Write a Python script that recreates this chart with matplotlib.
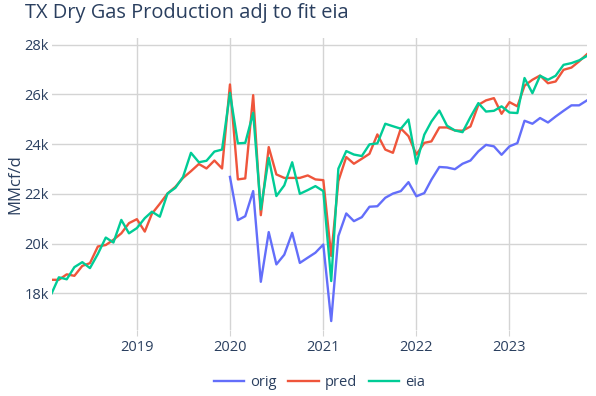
import matplotlib.pyplot as plt
import matplotlib.dates as mdates
import pandas as pd
from matplotlib.ticker import FuncFormatter

plt.rcParams["font.family"] = ["Open Sans", "DejaVu Sans"]

months = pd.date_range("2018-02-01", periods=70, freq="MS")
orig_start = "2020-01-01"

pred = [
    18540, 18540, 18760, 18700, 19100, 19210, 19880, 19940, 20150, 20410, 20820,
    20980, 20480, 21200, 21600, 22010, 22280, 22640, 22910, 23200, 23020, 23340, 23020,
    26400, 22580, 22620, 25970, 21140, 23880, 22780, 22640, 22640, 22640, 22740, 22580,
    22550, 19500, 22510, 23480, 23210, 23410, 23610, 24390, 23780, 23650, 24630, 24320,
    23580, 24050, 24110, 24670, 24670, 24550, 24540, 24710, 25580, 25760, 25850, 25220,
    25690, 25520, 26350, 26590, 26760, 26450, 26520, 26990, 27080, 27330, 27620,
]
eia = [
    18000, 18640, 18560, 19050, 19250, 19010, 19580, 20240, 20040, 20950, 20410,
    20620, 21020, 21280, 21080, 22010, 22240, 22680, 23650, 23270, 23330, 23700, 23780,
    26060, 24030, 24050, 25260, 21370, 23450, 21910, 22340, 23270, 22000, 22150, 22310,
    22110, 18490, 23010, 23720, 23580, 23520, 23990, 24030, 24820, 24720, 24620, 24990,
    23210, 24380, 24910, 25350, 24740, 24550, 24480, 25090, 25650, 25310, 25340, 25520,
    25270, 25250, 26660, 26050, 26750, 26590, 26750, 27190, 27260, 27370, 27550,
]
orig = [
    22680, 20940, 21100, 22110, 18460, 20460, 19160, 19550, 20430, 19220, 19430, 19630,
    19960, 16880, 20300, 21210, 20900, 21060, 21480, 21500, 21840, 22010, 22110, 22470,
    21900, 22030, 22570, 23080, 23060, 22990, 23210, 23340, 23710, 23970, 23910, 23570,
    23910, 24040, 24940, 24820, 25050, 24870, 25110, 25340, 25560, 25560, 25760,
]
orig_months = months[months >= orig_start]

text_color = "#2a3f5f"
grid_color = "#d4d4d4"

fig = plt.figure(figsize=(5.96, 3.96), dpi=100)
ax = fig.add_axes([51.7 / 596, 66 / 396, 535.3 / 596, 292 / 396])

ax.plot(orig_months, orig, color="#636efa", lw=1.7, label="orig")
ax.plot(months, pred, color="#EF553B", lw=1.7, label="pred")
ax.plot(months, eia, color="#00cc96", lw=1.7, label="eia")

ax.set_xlim(months[0], months[-1])
ax.set_ylim(16520, 28270)

ax.xaxis.set_major_locator(mdates.YearLocator())
ax.xaxis.set_major_formatter(mdates.DateFormatter("%Y"))
ax.set_yticks(range(18000, 28001, 2000))
ax.yaxis.set_major_formatter(FuncFormatter(lambda v, _: f"{int(v / 1000)}k"))

ax.grid(True, color=grid_color, lw=1)
ax.set_axisbelow(True)
for s in ax.spines.values():
    s.set_visible(False)
ax.tick_params(axis="x", length=4.5, color=grid_color, labelsize=10.5,
               labelcolor=text_color, pad=3)
ax.tick_params(axis="y", length=0, labelsize=10.5, labelcolor=text_color, pad=2)

ax.set_ylabel("MMcf/d", fontsize=12, color=text_color)
ax.yaxis.set_label_coords((23 - 51.7) / 535.3, 0.5)

fig.text(25 / 596, 1 - 13 / 396, "TX Dry Gas Production adj to fit eia",
         fontsize=14.4, color=text_color, ha="left", va="center")

fig.legend(loc="center", bbox_to_anchor=(319.3 / 596, 13 / 396), ncol=3,
           frameon=False, fontsize=10.5, handlelength=2.1, handletextpad=0.4,
           columnspacing=0.8, labelcolor=text_color)

fig.savefig("out.png", dpi=100)
